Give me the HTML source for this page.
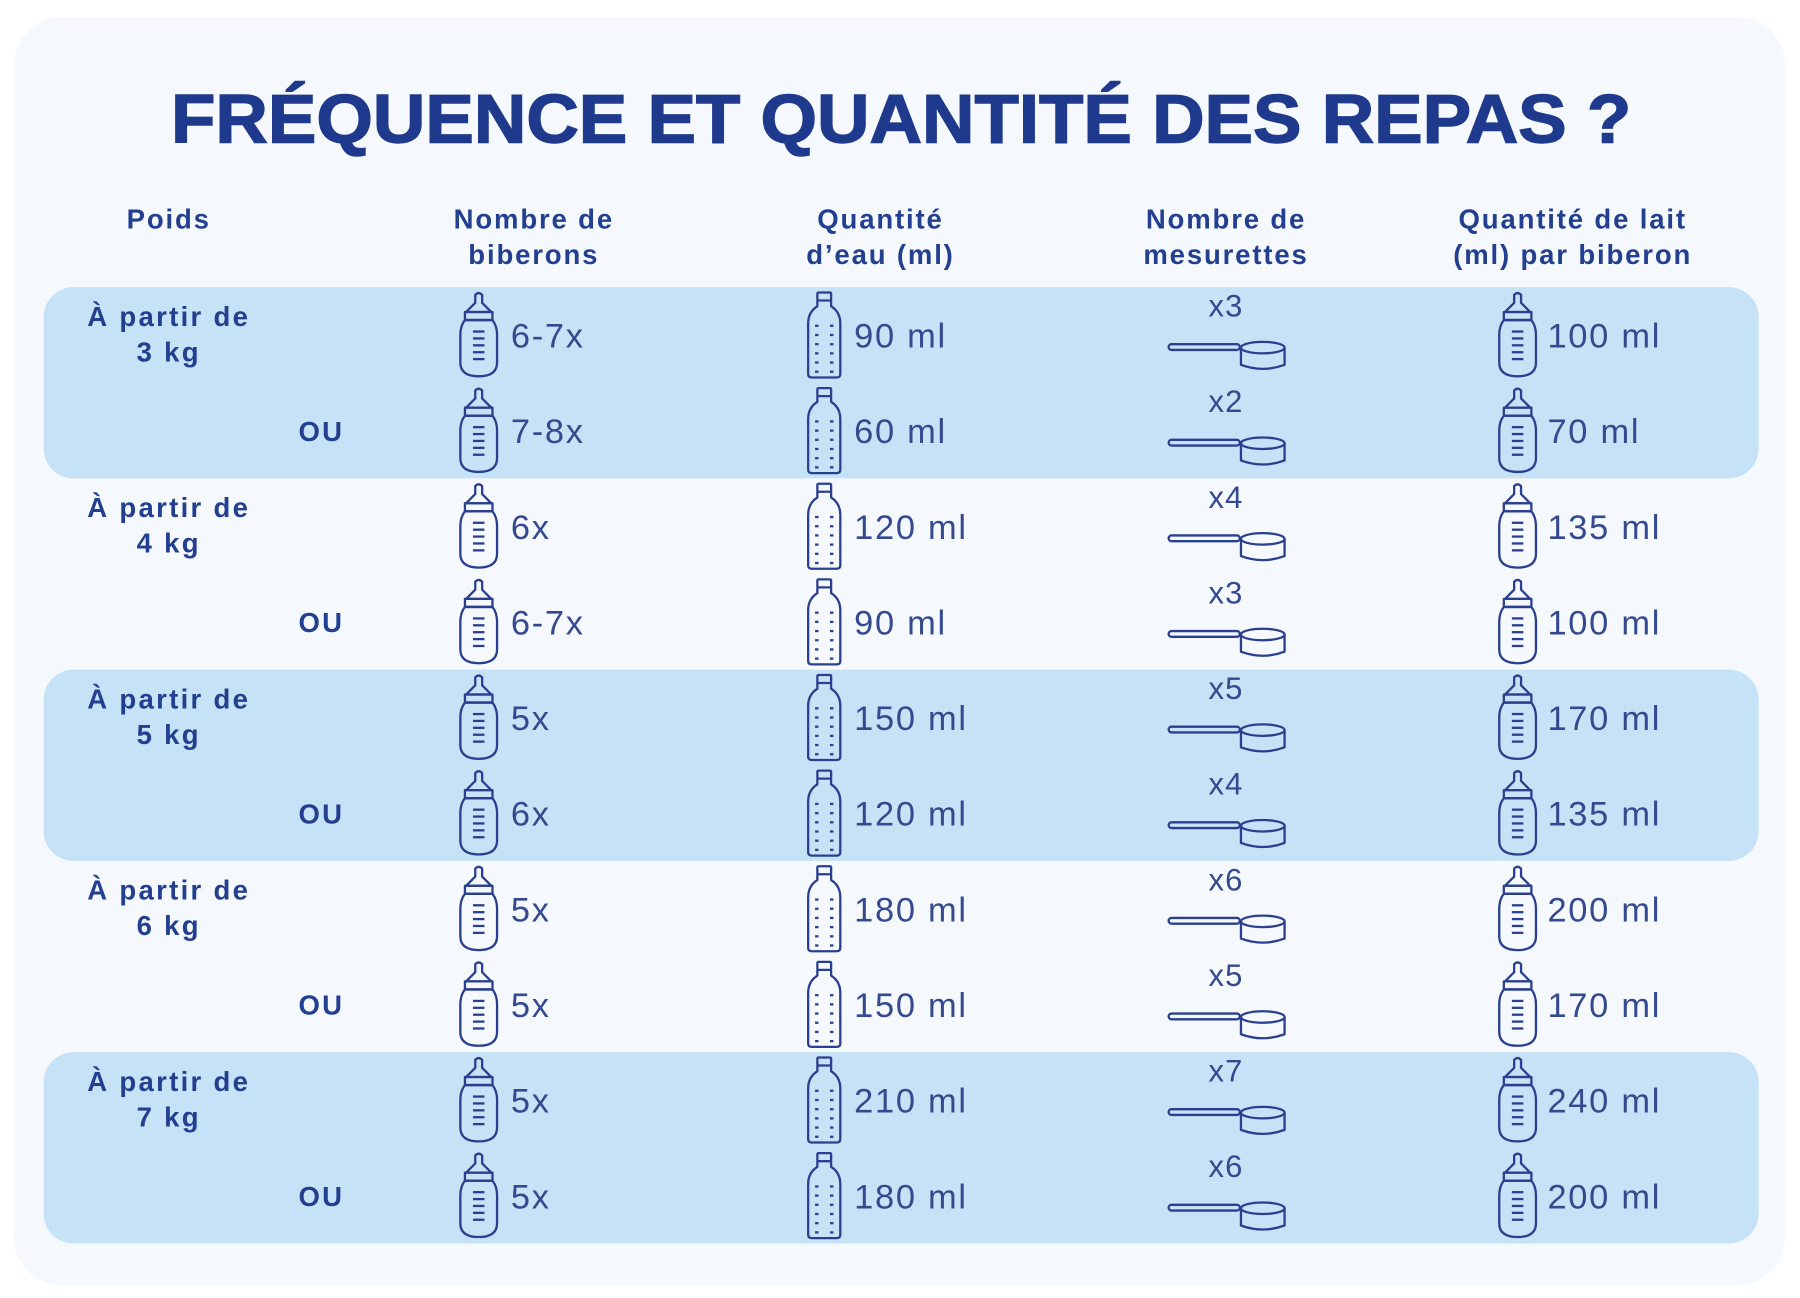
<!DOCTYPE html>
<html><head><meta charset="utf-8">
<style>
html,body{margin:0;padding:0;background:#fff;}
svg{display:block;}
text{font-family:"Liberation Sans",sans-serif;}
</style></head>
<body>
<svg id="chart" width="1800" height="1298" viewBox="0 0 1568 1130" preserveAspectRatio="none" xmlns="http://www.w3.org/2000/svg">
<rect x="12" y="15" width="1543" height="1104" rx="42" fill="#f5f9fe"/>
<text x="785" y="124" text-anchor="middle" font-size="60" font-weight="bold" fill="#1f3a8c" stroke="#1f3a8c" stroke-width="1.2" textLength="1272" lengthAdjust="spacingAndGlyphs">FRÉQUENCE ET QUANTITÉ DES REPAS ?</text>
<g id="bands"></g>
<g id="headers" font-size="24" font-weight="bold" fill="#233f90" text-anchor="middle" letter-spacing="1.6">
<text x="147" y="199">Poids</text>
<text x="465" y="199">Nombre de</text>
<text x="465" y="230">biberons</text>
<text x="767" y="199">Quantité</text>
<text x="767" y="230">d’eau (ml)</text>
<text x="1068" y="199">Nombre de</text>
<text x="1068" y="230">mesurettes</text>
<text x="1370" y="199">Quantité de lait</text>
<text x="1370" y="230">(ml) par biberon</text>
</g>
<g id="rows"></g>
</svg>
<script>
const weights = ["3 kg","4 kg","5 kg","6 kg","7 kg"];
const biberons = ["6-7x","7-8x","6x","6-7x","5x","6x","5x","5x","5x","5x"];
const eau = ["90 ml","60 ml","120 ml","90 ml","150 ml","120 ml","180 ml","150 ml","210 ml","180 ml"];
const mesurettes = ["x3","x2","x4","x3","x5","x4","x6","x5","x7","x6"];
const lait = ["100 ml","70 ml","135 ml","100 ml","170 ml","135 ml","200 ml","170 ml","240 ml","200 ml"];

const NS = "http://www.w3.org/2000/svg";
const C = "#2a3f8f";
const top0 = 250, groupH = 166.5, rowH = groupH/2;
function rowY(i){ return top0 + rowH*i + rowH/2; }
function mk(tag, attrs, parent){ const e=document.createElementNS(NS,tag); for(const k in attrs) e.setAttribute(k,attrs[k]); parent.appendChild(e); return e; }

const bands = document.getElementById('bands');
weights.forEach((w,g)=>{
  if(g%2===0){
    const r = mk('rect',{x:38,y:top0+groupH*g,width:1494,height:groupH,rx:26,fill:'#c6e2f6'},bands);
    
    
  }
});

const rows = document.getElementById('rows');
function babyBottle(cx, cy, parent){
  const g = mk('g',{fill:'none',stroke:C,'stroke-width':2,'stroke-linejoin':'round'},parent);
  
  
  mk('path',{d:`M${cx-3} ${cy-28} L${cx-3} ${cy-35} Q${cx} ${cy-38} ${cx+3} ${cy-35} L${cx+3} ${cy-28} L${cx+11} ${cy-20} L${cx-11} ${cy-20} Z`},g);
  mk('rect',{x:cx-12,y:cy-20,width:24,height:7},g);
  mk('path',{d:`M${cx-12} ${cy-13} Q${cx-16} ${cy-8} ${cx-16} ${cy} L${cx-16} ${cy+24} Q${cx-16} ${cy+36} ${cx} ${cy+36} Q${cx+16} ${cy+36} ${cx+16} ${cy+24} L${cx+16} ${cy} Q${cx+16} ${cy-8} ${cx+12} ${cy-13} Z`},g);
  for(let k=0;k<5;k++) mk('line',{x1:cx-5,x2:cx+5,y1:cy-3+k*6,y2:cy-3+k*6},g);
}
function waterBottle(cx, cy, parent){
  const g = mk('g',{fill:'none',stroke:C,'stroke-width':2,'stroke-linejoin':'round'},parent);
  
  
  mk('rect',{x:cx-6,y:cy-37,width:12,height:7,rx:1},g);
  mk('path',{d:`M${cx-6} ${cy-30} L${cx-6} ${cy-25} Q${cx-14} ${cy-20} ${cx-14} ${cy-10} L${cx-14} ${cy+34} Q${cx-14} ${cy+37} ${cx-11} ${cy+37} L${cx+11} ${cy+37} Q${cx+14} ${cy+37} ${cx+14} ${cy+34} L${cx+14} ${cy-10} Q${cx+14} ${cy-20} ${cx+6} ${cy-25} L${cx+6} ${cy-30}`},g);
  for(let k=0;k<6;k++){
    mk('line',{x1:cx-8,x2:cx-5,y1:cy-8+k*8,y2:cy-8+k*8},g);
    mk('line',{x1:cx+5,x2:cx+8,y1:cy-8+k*8,y2:cy-8+k*8},g);
  }
}
function scoop(cx, cy, parent){
  const g = mk('g',{fill:'none',stroke:C,'stroke-width':2,'stroke-linejoin':'round'},parent);
  
  
  mk('rect',{x:cx-50,y:cy+8,width:62,height:5,rx:2.5},g);
  mk('ellipse',{cx:cx+32,cy:cy+11,rx:19,ry:5},g);
  mk('path',{d:`M${cx+13} ${cy+11} L${cx+13} ${cy+26} Q${cx+32} ${cy+33} ${cx+51} ${cy+26} L${cx+51} ${cy+11}`},g);
}
function txt(x,y,s,attrs,name){
  const t = mk('text',Object.assign({x:x,y:y,fill:C},attrs),rows);
  t.textContent = s;
  
  
  return t;
}
const boldLbl = {'font-size':24,'font-weight':'bold','text-anchor':'middle',fill:'#233f90','letter-spacing':2};
const valLbl = {'font-size':30,'letter-spacing':1.5,fill:'#34498f'};

weights.forEach((w,g)=>{
  const y0 = rowY(g*2);
  txt(147,y0-8,"À partir de",boldLbl,'weight-label');
  txt(147,y0+23,w,boldLbl,'weight-value');
  txt(280,rowY(g*2+1)+9,"OU",boldLbl,'or-label');
});

biberons.forEach((b,i)=>{
  const y = rowY(i);
  babyBottle(417,y,rows);
  txt(445,y+11,b,valLbl,'bottle-count');
  waterBottle(718,y,rows);
  txt(744,y+11,eau[i],valLbl,'water-amount');
  txt(1068,y-16,mesurettes[i],{'font-size':27,'text-anchor':'middle',fill:'#34498f','letter-spacing':1},'scoop-count');
  scoop(1068,y,rows);
  babyBottle(1322,y,rows);
  txt(1348,y+11,lait[i],valLbl,'milk-amount');
});
</script>
</body></html>
